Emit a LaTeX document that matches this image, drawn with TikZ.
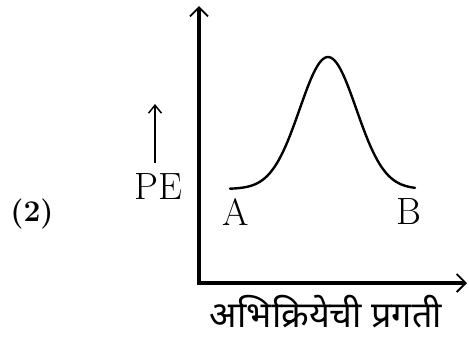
\documentclass[tikz,border=0pt]{standalone}
\usepackage{fontspec}
\newfontfamily\devfont[Script=Devanagari]{Noto Sans}
\usetikzlibrary{arrows.meta}
\begin{document}
\begin{tikzpicture}[x=1pt,y=-1pt,
  axisline/.style={line width=3.5pt,line join=miter,
    {Straight Barb[length=9pt,width=18pt,line width=1.8pt]}-{Straight Barb[length=9pt,width=18pt,line width=1.8pt]}},
  peaxis/.style={line width=2.2pt,-{Straight Barb[length=8pt,width=13pt,line width=1.5pt]}},
  curveline/.style={line width=2.4pt,line cap=round},
  lbl/.style={font=\fontsize{38}{40}\selectfont,inner sep=0pt},
  numlbl/.style={font=\bfseries\fontsize{30}{32}\selectfont,inner sep=0pt},
  devlbl/.style={font=\devfont\bfseries\fontsize{36}{38}\selectfont,inner sep=0pt}]
\useasboundingbox (0,0) rectangle (469,338);
\coordinate (ytip) at (199,6);
\coordinate (O) at (199,283);
\coordinate (xtip) at (467,283);
\draw[axisline] (ytip) -- (O) -- (xtip);
\draw[curveline] plot[domain=230:415,samples=100,smooth] (\x,{189-132*exp(-((\x-328)/40)^2)});
\node[numlbl] (num) at (32,214) {(2)};
\node[lbl] (PE) at (158,187) {PE};
\coordinate (pebase) at (155,163);
\coordinate (petip) at (155,104);
\draw[peaxis] (pebase) -- (petip);
\node[lbl] (A) at (236,212) {A};
\node[lbl] (B) at (409,212) {B};
\node[devlbl] (xlabel) at (326,312) {अभिक्रियेची प्रगती};
\end{tikzpicture}
\end{document}
